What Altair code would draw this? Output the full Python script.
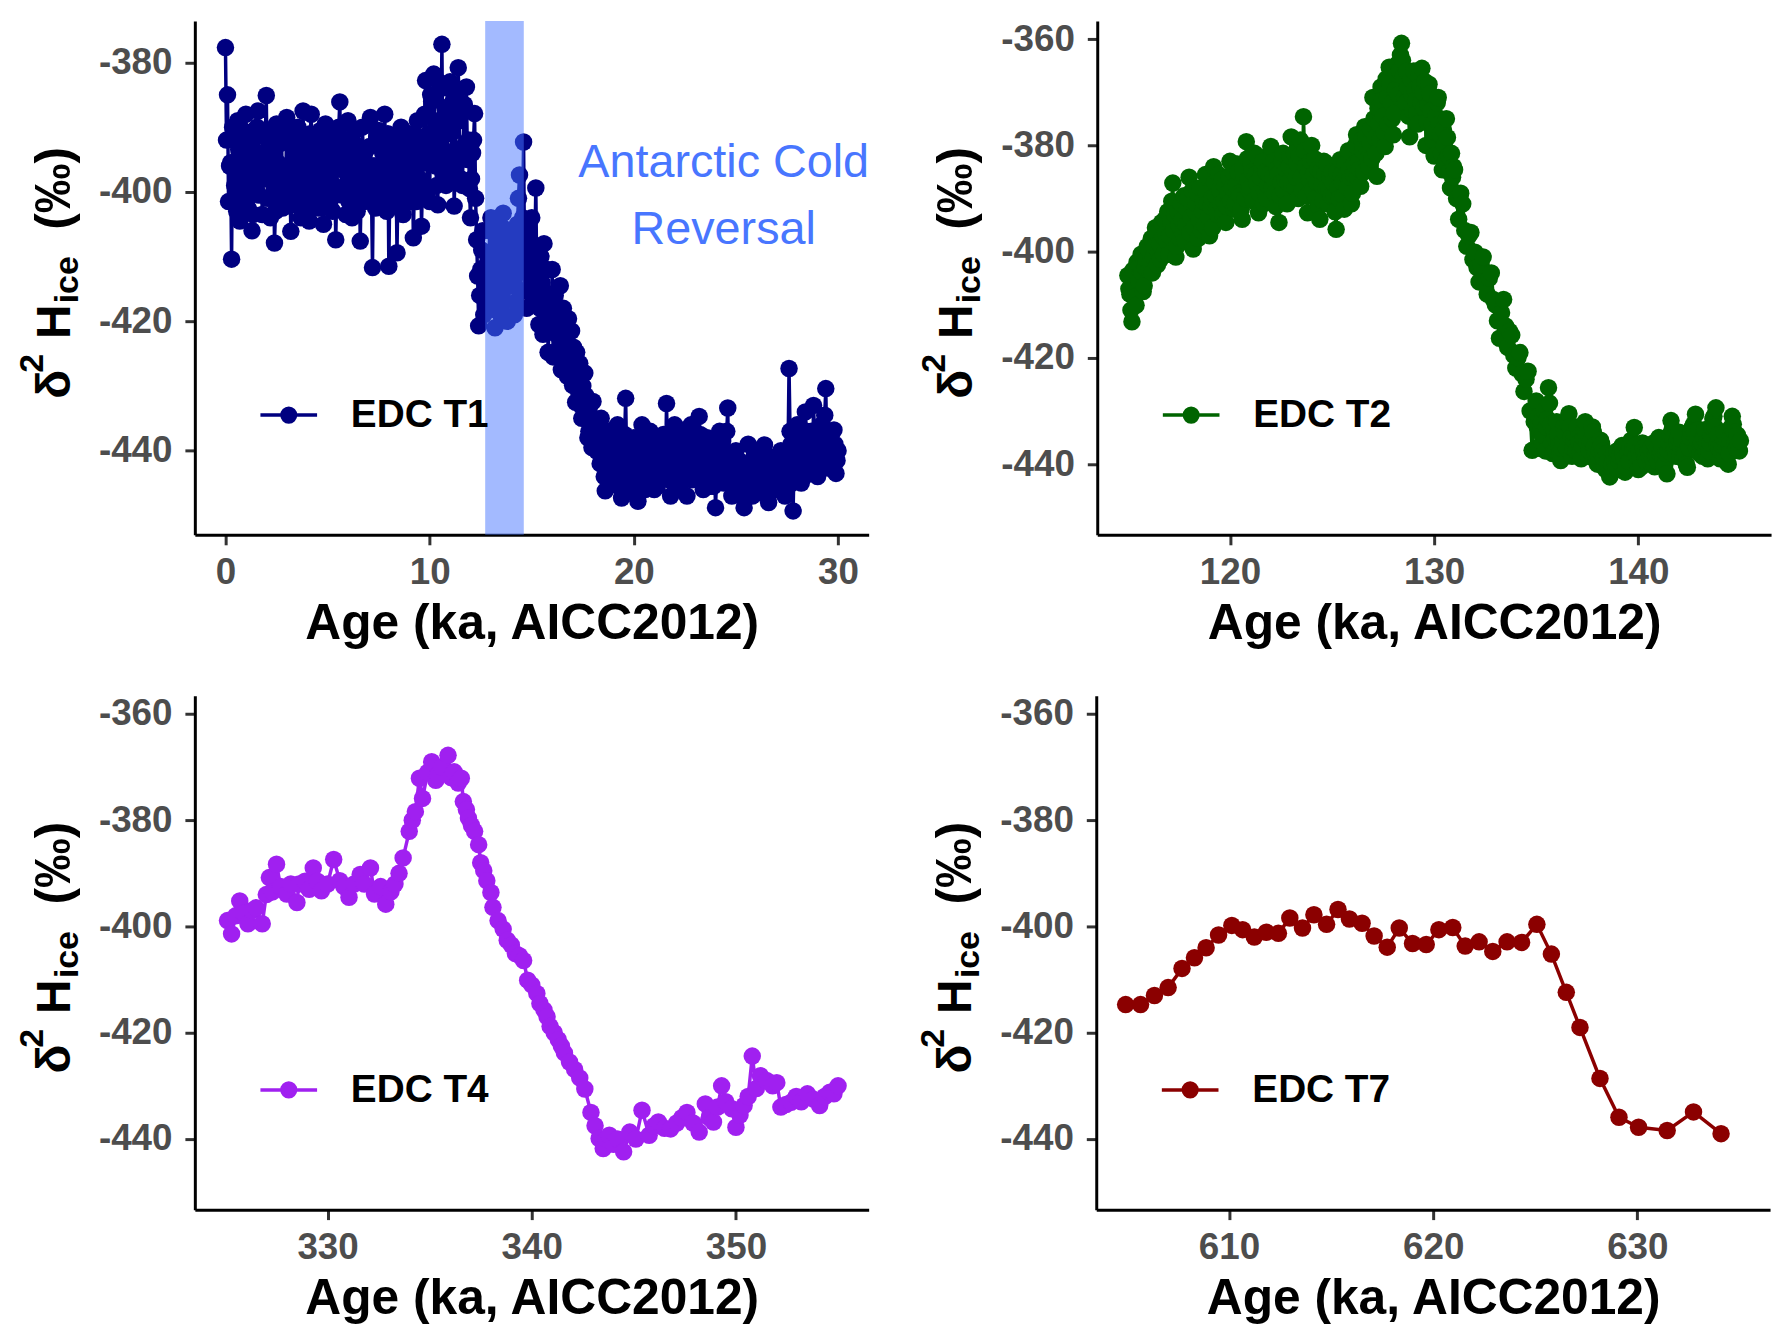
import altair as alt
import pandas as pd

FONT = "Liberation Sans"

# --- EDC T1 (0-30 ka) ---
t1_age = [0.0, 0.1, 0.2, 0.3, 0.4, 0.5, 0.6, 0.7, 0.8, 0.9,
          1.0, 1.1, 1.2, 1.3, 1.4, 1.5, 1.6, 1.7, 1.8, 1.9,
          2.0, 2.1, 2.2, 2.3, 2.4, 2.5, 2.6, 2.7, 2.8, 2.9,
          3.0, 3.1, 3.2, 3.3, 3.4, 3.5, 3.6, 3.7, 3.8, 3.9,
          4.0, 4.1, 4.2, 4.3, 4.4, 4.5, 4.6, 4.7, 4.8, 4.9,
          5.0, 5.1, 5.2, 5.3, 5.4, 5.5, 5.6, 5.7, 5.8, 5.9,
          6.0, 6.1, 6.2, 6.3, 6.4, 6.5, 6.6, 6.7, 6.8, 6.9,
          7.0, 7.1, 7.2, 7.3, 7.4, 7.5, 7.6, 7.7, 7.8, 7.9,
          8.0, 8.1, 8.2, 8.3, 8.4, 8.5, 8.6, 8.7, 8.8, 8.9,
          9.0, 9.1, 9.2, 9.3, 9.4, 9.5, 9.6, 9.7, 9.8, 9.9,
          10.0, 10.1, 10.2, 10.3, 10.4, 10.5, 10.6, 10.7, 10.8, 10.9,
          11.0, 11.1, 11.2, 11.3, 11.4, 11.5, 11.6, 11.7, 11.8, 11.9,
          12.0, 12.1, 12.2, 12.3, 12.4, 12.5, 12.6, 12.7, 12.8, 12.9,
          13.0, 13.1, 13.2, 13.3, 13.4, 13.5, 13.6, 13.7, 13.8, 13.9,
          14.0, 14.1, 14.2, 14.3, 14.4, 14.5, 14.6, 14.7, 14.8, 14.9,
          15.0, 15.1, 15.2, 15.3, 15.4, 15.5, 15.6, 15.7, 15.8, 15.9,
          16.0, 16.1, 16.2, 16.3, 16.4, 16.5, 16.6, 16.7, 16.8, 16.9,
          17.0, 17.1, 17.2, 17.3, 17.4, 17.5, 17.6, 17.7, 17.8, 17.9,
          18.0, 18.1, 18.2, 18.3, 18.4, 18.5, 18.6, 18.7, 18.8, 18.9,
          19.0, 19.1, 19.2, 19.3, 19.4, 19.5, 19.6, 19.7, 19.8, 19.9,
          20.0, 20.1, 20.2, 20.3, 20.4, 20.5, 20.6, 20.7, 20.8, 20.9,
          21.0, 21.1, 21.2, 21.3, 21.4, 21.5, 21.6, 21.7, 21.8, 21.9,
          22.0, 22.1, 22.2, 22.3, 22.4, 22.5, 22.6, 22.7, 22.8, 22.9,
          23.0, 23.1, 23.2, 23.3, 23.4, 23.5, 23.6, 23.7, 23.8, 23.9,
          24.0, 24.1, 24.2, 24.3, 24.4, 24.5, 24.6, 24.7, 24.8, 24.9,
          25.0, 25.1, 25.2, 25.3, 25.4, 25.5, 25.6, 25.7, 25.8, 25.9,
          26.0, 26.1, 26.2, 26.3, 26.4, 26.5, 26.6, 26.7, 26.8, 26.9,
          27.0, 27.1, 27.2, 27.3, 27.4, 27.5, 27.6, 27.7, 27.8, 27.9,
          28.0, 28.1, 28.2, 28.3, 28.4, 28.5, 28.6, 28.7, 28.8, 28.9,
          29.0, 29.1, 29.2, 29.3, 29.4, 29.5, 29.6, 29.7, 29.8, 29.9,
          30.0]
t1_d2h = [-377.7, -385.0, -396.0, -410.4, -392.0, -401.0, -389.0, -404.5, -395.0, -398.5,
          -388.0, -402.5, -393.0, -406.0, -390.5, -399.5, -387.5, -396.5, -403.5, -391.5,
          -385.1, -398.0, -404.0, -394.0, -407.9, -389.5, -400.5, -392.5, -402.5, -396.5,
          -388.5, -399.5, -406.1, -393.0, -390.5, -401.5, -396.0, -404.0, -387.5, -398.5,
          -392.0, -404.5, -388.0, -397.5, -402.0, -391.0, -399.0, -394.5, -405.0, -389.5,
          -396.0, -402.5, -390.5, -399.0, -407.4, -393.5, -386.1, -400.5, -394.0, -403.5,
          -389.0, -397.5, -404.0, -392.5, -400.0, -395.5, -407.6, -390.0, -401.5, -393.5,
          -398.5, -388.5, -411.7, -396.0, -402.0, -390.5, -399.5, -394.0, -388.0, -403.0,
          -411.5, -395.5, -392.0, -400.5, -409.4, -397.0, -390.0, -403.5, -394.5, -399.0,
          -391.0, -401.5, -407.1, -393.5, -389.0, -398.0, -405.3, -395.5, -382.8, -400.0,
          -401.5, -386.0, -381.8, -396.0, -402.0, -390.0, -377.2, -393.5, -399.0, -384.0,
          -383.0, -397.5, -402.2, -388.0, -380.8, -394.5, -399.0, -386.5, -383.8, -392.0,
          -404.0, -394.0, -387.9, -407.4, -420.7, -412.0, -406.0, -414.0, -418.0, -410.0,
          -404.0, -413.0, -421.0, -415.0, -408.0, -417.0, -403.3, -412.0, -420.0, -409.0,
          -410.0, -414.5, -417.0, -405.0, -397.4, -410.0, -392.3, -406.0, -415.0, -410.0,
          -404.0, -413.0, -399.4, -411.0, -418.0, -414.0, -408.0, -420.0, -424.8, -417.0,
          -412.0, -419.0, -422.0, -418.5, -414.5, -421.5, -426.0, -423.0, -419.6, -425.0,
          -429.9, -427.0, -424.8, -431.0, -433.0, -430.0, -428.0, -434.0, -437.0, -435.0,
          -432.4, -437.5, -440.1, -438.0, -435.0, -441.0, -446.2, -440.5, -437.0, -442.5,
          -444.0, -440.0, -436.0, -443.0, -447.3, -441.0, -431.9, -439.0, -442.0, -444.5,
          -438.0, -442.0, -447.8, -441.5, -436.0, -443.0, -445.0, -440.0, -437.0, -442.5,
          -446.0, -441.0, -438.0, -443.5, -444.0, -439.5, -432.7, -441.0, -447.0, -442.0,
          -436.0, -440.5, -443.0, -445.0, -437.0, -441.5, -447.0, -442.0, -436.0, -440.0,
          -444.0, -441.0, -434.7, -440.0, -446.0, -442.5, -438.0, -441.5, -443.0, -445.5,
          -448.8, -442.0, -437.0, -441.0, -445.0, -440.5, -433.4, -443.0, -447.0, -444.0,
          -440.0, -443.5, -446.0, -442.5, -448.8, -444.0, -439.0, -443.0, -447.0, -444.5,
          -440.0, -443.0, -445.0, -442.0, -439.1, -444.5, -448.0, -443.0, -441.0, -444.5,
          -446.0, -442.5, -440.0, -444.0, -447.0, -441.0, -427.3, -439.0, -449.3, -443.0,
          -436.0, -441.0, -445.0, -439.5, -434.0, -438.5, -442.0, -437.0, -433.0, -439.0,
          -444.0, -440.0, -436.0, -438.5, -430.4, -437.0, -442.7, -439.0, -436.8, -443.5,
          -440.0]

# extra T1 samples in between (the record is much denser than 0.1 ka)
t1_fill_age = [0.05, 0.15, 0.25, 0.35, 0.45, 0.55, 0.65, 0.75, 0.85, 0.95,
               1.05, 1.15, 1.25, 1.35, 1.45, 1.55, 1.65, 1.75, 1.85, 1.95,
               2.05, 2.15, 2.25, 2.35, 2.45, 2.55, 2.65, 2.75, 2.85, 2.95,
               3.05, 3.15, 3.25, 3.35, 3.45, 3.55, 3.65, 3.75, 3.85, 3.95,
               4.05, 4.15, 4.25, 4.35, 4.45, 4.55, 4.65, 4.75, 4.85, 4.95,
               5.05, 5.15, 5.25, 5.35, 5.45, 5.55, 5.65, 5.75, 5.85, 5.95,
               6.05, 6.15, 6.25, 6.35, 6.45, 6.55, 6.65, 6.75, 6.85, 6.95,
               7.05, 7.15, 7.25, 7.35, 7.45, 7.55, 7.65, 7.75, 7.85, 7.95,
               8.05, 8.15, 8.25, 8.35, 8.45, 8.55, 8.65, 8.75, 8.85, 8.95,
               9.05, 9.15, 9.25, 9.35, 9.45, 9.55, 9.65, 9.75, 9.85, 9.95,
               10.05, 10.15, 10.25, 10.35, 10.45, 10.55, 10.65, 10.75, 10.85, 10.95,
               11.05, 11.15, 11.25, 11.35, 11.45, 11.55, 11.65, 11.75, 11.85, 11.95,
               12.05, 12.15, 12.25, 12.35, 12.45, 12.55, 12.65, 12.75, 12.85, 12.95,
               13.05, 13.15, 13.25, 13.35, 13.45, 13.55, 13.65, 13.75, 13.85, 13.95,
               14.05, 14.15, 14.25, 14.35, 14.45, 14.55, 14.65, 14.75, 14.85, 14.95,
               15.05, 15.15, 15.25, 15.35, 15.45, 15.55, 15.65, 15.75, 15.85, 15.95,
               16.05, 16.15, 16.25, 16.35, 16.45, 16.55, 16.65, 16.75, 16.85, 16.95,
               17.05, 17.15, 17.25, 17.35, 17.45, 17.55, 17.65, 17.75, 17.85, 17.95,
               18.05, 18.15, 18.25, 18.35, 18.45, 18.55, 18.65, 18.75, 18.85, 18.95,
               19.05, 19.15, 19.25, 19.35, 19.45, 19.55, 19.65, 19.75, 19.85, 19.95,
               20.05, 20.15, 20.25, 20.35, 20.45, 20.55, 20.65, 20.75, 20.85, 20.95,
               21.05, 21.15, 21.25, 21.35, 21.45, 21.55, 21.65, 21.75, 21.85, 21.95,
               22.05, 22.15, 22.25, 22.35, 22.45, 22.55, 22.65, 22.75, 22.85, 22.95,
               23.05, 23.15, 23.25, 23.35, 23.45, 23.55, 23.65, 23.75, 23.85, 23.95,
               24.05, 24.15, 24.25, 24.35, 24.45, 24.55, 24.65, 24.75, 24.85, 24.95,
               25.05, 25.15, 25.25, 25.35, 25.45, 25.55, 25.65, 25.75, 25.85, 25.95,
               26.05, 26.15, 26.25, 26.35, 26.45, 26.55, 26.65, 26.75, 26.85, 26.95,
               27.05, 27.15, 27.25, 27.35, 27.45, 27.55, 27.65, 27.75, 27.85, 27.95,
               28.05, 28.15, 28.25, 28.35, 28.45, 28.55, 28.65, 28.75, 28.85, 28.95,
               29.05, 29.15, 29.25, 29.35, 29.45, 29.55, 29.65, 29.75, 29.85, 29.95]
t1_fill_d2h = [-392.0, -401.5, -395.5, -390.0, -399.0, -403.0, -393.5, -397.0, -390.5, -401.0,
               -395.0, -399.5, -392.0, -403.5, -397.0, -390.0, -400.5, -394.0, -398.0, -391.5,
               -401.0, -393.0, -397.5, -390.5, -403.0, -395.5, -399.0, -392.0, -396.0, -400.0,
               -391.0, -396.5, -402.0, -394.5, -399.0, -390.0, -400.5, -393.5, -397.0, -403.0,
               -396.5, -391.0, -400.0, -393.0, -397.5, -402.5, -390.5, -398.0, -394.0, -401.0,
               -392.5, -398.5, -403.0, -395.0, -400.0, -390.0, -396.5, -392.0, -399.5, -397.0,
               -401.5, -393.0, -397.0, -390.5, -403.0, -395.0, -399.5, -393.5, -397.5, -401.0,
               -393.0, -400.0, -396.0, -402.5, -391.5, -397.5, -393.0, -400.5, -395.5, -391.0,
               -399.0, -393.5, -402.0, -395.5, -398.5, -391.0, -396.5, -400.5, -392.0, -397.0,
               -396.0, -392.5, -399.5, -401.5, -394.0, -391.5, -398.5, -388.0, -394.5, -391.0,
               -385.0, -395.0, -389.0, -399.0, -383.0, -392.0, -397.0, -387.0, -394.0, -390.0,
               -391.0, -386.0, -396.0, -384.5, -389.0, -398.0, -393.0, -387.5, -395.0, -399.5,
               -398.0, -392.0, -401.0, -413.0, -416.0, -409.0, -419.0, -411.5, -415.5, -406.0,
               -417.5, -410.5, -406.5, -418.5, -412.0, -405.5, -415.0, -419.5, -411.0, -414.5,
               -407.0, -419.0, -412.5, -401.0, -415.5, -404.0, -411.5, -418.0, -407.5, -413.5,
               -416.0, -408.5, -415.0, -420.5, -410.0, -422.0, -415.5, -412.0, -421.0, -420.0,
               -425.5, -416.0, -424.5, -420.0, -427.5, -418.0, -423.0, -428.5, -426.0, -421.5,
               -424.0, -432.5, -428.5, -426.5, -435.0, -433.5, -431.5, -438.0, -433.0, -439.5,
               -435.0, -439.0, -437.0, -442.0, -440.0, -444.0, -441.0, -439.5, -443.0, -441.0,
               -438.5, -442.5, -445.5, -440.0, -444.0, -437.5, -442.0, -446.0, -439.5, -441.5,
               -444.5, -440.0, -443.5, -438.5, -441.5, -446.0, -439.0, -443.0, -445.0, -440.5,
               -442.0, -445.5, -439.5, -441.0, -437.5, -443.5, -440.0, -444.5, -438.5, -442.5,
               -445.5, -439.0, -441.5, -443.0, -439.5, -444.0, -440.5, -438.0, -444.5, -442.0,
               -439.0, -443.0, -437.5, -444.5, -440.5, -438.5, -443.5, -445.5, -439.5, -442.0,
               -444.5, -440.0, -443.0, -438.5, -442.5, -437.0, -445.0, -441.5, -444.0, -442.0,
               -445.0, -441.5, -447.0, -443.0, -446.0, -442.0, -444.5, -446.5, -443.5, -441.0,
               -444.5, -446.5, -442.0, -445.0, -443.5, -446.0, -441.5, -445.5, -443.0, -446.0,
               -443.5, -445.5, -442.0, -446.0, -444.0, -440.5, -437.0, -445.0, -441.5, -439.0,
               -443.0, -438.0, -441.5, -444.0, -437.0, -440.5, -439.0, -443.5, -437.5, -441.0,
               -438.0, -442.0, -440.5, -434.5, -439.5, -440.0, -437.5, -441.0, -439.0, -441.5]

# --- EDC T2 (115-145 ka) ---
t2_age = [115.0, 115.1, 115.2, 115.3, 115.4, 115.5, 115.6, 115.7, 115.8, 115.9,
          116.0, 116.1, 116.2, 116.3, 116.4, 116.5, 116.6, 116.7, 116.8, 116.9,
          117.0, 117.1, 117.2, 117.3, 117.4, 117.5, 117.6, 117.7, 117.8, 117.9,
          118.0, 118.1, 118.2, 118.3, 118.4, 118.5, 118.6, 118.7, 118.8, 118.9,
          119.0, 119.1, 119.2, 119.3, 119.4, 119.5, 119.6, 119.7, 119.8, 119.9,
          120.0, 120.1, 120.2, 120.3, 120.4, 120.5, 120.6, 120.7, 120.8, 120.9,
          121.0, 121.1, 121.2, 121.3, 121.4, 121.5, 121.6, 121.7, 121.8, 121.9,
          122.0, 122.1, 122.2, 122.3, 122.4, 122.5, 122.6, 122.7, 122.8, 122.9,
          123.0, 123.1, 123.2, 123.3, 123.4, 123.5, 123.6, 123.7, 123.8, 123.9,
          124.0, 124.1, 124.2, 124.3, 124.4, 124.5, 124.6, 124.7, 124.8, 124.9,
          125.0, 125.1, 125.2, 125.3, 125.4, 125.5, 125.6, 125.7, 125.8, 125.9,
          126.0, 126.1, 126.2, 126.3, 126.4, 126.5, 126.6, 126.7, 126.8, 126.9,
          127.0, 127.1, 127.2, 127.3, 127.4, 127.5, 127.6, 127.7, 127.8, 127.9,
          128.0, 128.1, 128.2, 128.3, 128.4, 128.5, 128.6, 128.7, 128.8, 128.9,
          129.0, 129.1, 129.2, 129.3, 129.4, 129.5, 129.6, 129.7, 129.8, 129.9,
          130.0, 130.1, 130.2, 130.3, 130.4, 130.5, 130.6, 130.7, 130.8, 130.9,
          131.0, 131.1, 131.2, 131.3, 131.4, 131.5, 131.6, 131.7, 131.8, 131.9,
          132.0, 132.1, 132.2, 132.3, 132.4, 132.5, 132.6, 132.7, 132.8, 132.9,
          133.0, 133.1, 133.2, 133.3, 133.4, 133.5, 133.6, 133.7, 133.8, 133.9,
          134.0, 134.1, 134.2, 134.3, 134.4, 134.5, 134.6, 134.7, 134.8, 134.9,
          135.0, 135.1, 135.2, 135.3, 135.4, 135.5, 135.6, 135.7, 135.8, 135.9,
          136.0, 136.1, 136.2, 136.3, 136.4, 136.5, 136.6, 136.7, 136.8, 136.9,
          137.0, 137.1, 137.2, 137.3, 137.4, 137.5, 137.6, 137.7, 137.8, 137.9,
          138.0, 138.1, 138.2, 138.3, 138.4, 138.5, 138.6, 138.7, 138.8, 138.9,
          139.0, 139.1, 139.2, 139.3, 139.4, 139.5, 139.6, 139.7, 139.8, 139.9,
          140.0, 140.1, 140.2, 140.3, 140.4, 140.5, 140.6, 140.7, 140.8, 140.9,
          141.0, 141.1, 141.2, 141.3, 141.4, 141.5, 141.6, 141.7, 141.8, 141.9,
          142.0, 142.1, 142.2, 142.3, 142.4, 142.5, 142.6, 142.7, 142.8, 142.9,
          143.0, 143.1, 143.2, 143.3, 143.4, 143.5, 143.6, 143.7, 143.8, 143.9,
          144.0, 144.1, 144.2, 144.3, 144.4, 144.5, 144.6, 144.7, 144.8, 144.9,
          145.0]
t2_d2h = [-404.5, -408.0, -413.2, -406.5, -410.1, -405.0, -402.6, -404.0, -406.4, -401.5,
          -399.5, -402.0, -404.0, -399.0, -396.5, -400.0, -401.4, -397.0, -394.0, -398.0,
          -400.5, -394.5, -387.1, -393.0, -399.0, -395.0, -391.0, -396.5, -398.0, -392.0,
          -386.0, -393.5, -399.5, -392.5, -389.0, -394.0, -396.0, -390.5, -385.5, -391.0,
          -397.0, -390.0, -384.0, -389.5, -393.0, -388.5, -386.5, -390.5, -394.5, -389.0,
          -383.0, -388.0, -392.0, -387.5, -385.0, -389.5, -393.9, -386.0, -379.3, -386.5,
          -388.0, -385.0, -381.5, -387.0, -392.7, -386.0, -383.0, -388.5, -390.0, -385.5,
          -380.2, -386.0, -389.0, -384.5, -394.5, -387.0, -381.5, -386.5, -391.0, -384.0,
          -378.4, -385.0, -388.0, -383.5, -382.0, -386.0, -374.6, -384.0, -392.7, -386.5,
          -380.0, -385.5, -390.0, -384.5, -393.9, -387.5, -383.0, -388.0, -391.0, -386.0,
          -385.0, -389.5, -395.8, -388.0, -382.7, -387.0, -392.0, -385.5, -381.0, -386.0,
          -389.0, -383.5, -378.0, -383.0, -387.7, -381.0, -376.5, -380.5, -384.0, -377.0,
          -371.0, -378.5, -385.8, -376.0, -369.0, -374.5, -380.2, -371.0, -365.3, -372.0,
          -378.0, -369.5, -364.7, -366.0, -360.8, -367.0, -372.0, -369.0, -378.4, -370.5,
          -366.0, -371.5, -376.0, -369.0, -365.5, -373.0, -380.0, -372.5, -370.3, -376.0,
          -382.0, -374.5, -371.0, -378.0, -384.6, -380.0, -375.0, -382.0, -388.0, -386.0,
          -384.6, -390.0, -393.9, -389.0, -391.0, -396.0, -399.0, -397.0, -396.4, -401.5,
          -400.1, -403.0, -405.7, -402.5, -401.0, -406.0, -408.0, -405.0, -404.0, -409.0,
          -410.0, -413.0, -416.3, -411.5, -409.0, -414.0, -418.0, -415.0, -415.7, -419.5,
          -421.9, -420.0, -419.0, -423.0, -426.3, -424.0, -422.5, -430.0, -437.4, -432.0,
          -428.1, -431.0, -434.0, -436.0, -430.0, -433.0, -425.6, -432.5, -438.0, -435.0,
          -432.0, -436.5, -439.3, -435.5, -434.0, -437.0, -430.5, -435.0, -437.0, -434.5,
          -433.0, -436.0, -439.0, -435.0, -432.0, -436.0, -437.5, -435.5, -434.0, -438.0,
          -440.0, -437.5, -436.2, -439.0, -441.0, -439.5, -442.4, -440.0, -438.0, -440.5,
          -441.0, -438.5, -436.5, -439.0, -440.5, -438.0, -437.0, -436.0, -433.1, -438.5,
          -441.0, -439.0, -436.0, -438.0, -439.5, -437.5, -437.0, -439.0, -440.5, -437.0,
          -435.0, -437.5, -439.0, -440.0, -441.8, -436.0, -431.8, -435.0, -437.0, -436.0,
          -434.0, -437.0, -439.0, -438.0, -440.6, -437.0, -434.0, -432.5, -430.6, -435.5,
          -438.0, -436.0, -435.0, -437.5, -439.0, -436.0, -433.0, -431.0, -429.4, -434.5,
          -439.0, -436.5, -434.0, -437.0, -440.0, -435.5, -431.0, -434.0, -437.0, -436.0,
          -435.6]

# extra T2 samples in between
t2_fill_age = [115.05, 115.15, 115.25, 115.35, 115.45, 115.55, 115.65, 115.75, 115.85, 115.95,
               116.05, 116.15, 116.25, 116.35, 116.45, 116.55, 116.65, 116.75, 116.85, 116.95,
               117.05, 117.15, 117.25, 117.35, 117.45, 117.55, 117.65, 117.75, 117.85, 117.95,
               118.05, 118.15, 118.25, 118.35, 118.45, 118.55, 118.65, 118.75, 118.85, 118.95,
               119.05, 119.15, 119.25, 119.35, 119.45, 119.55, 119.65, 119.75, 119.85, 119.95,
               120.05, 120.15, 120.25, 120.35, 120.45, 120.55, 120.65, 120.75, 120.85, 120.95,
               121.05, 121.15, 121.25, 121.35, 121.45, 121.55, 121.65, 121.75, 121.85, 121.95,
               122.05, 122.15, 122.25, 122.35, 122.45, 122.55, 122.65, 122.75, 122.85, 122.95,
               123.05, 123.15, 123.25, 123.35, 123.45, 123.55, 123.65, 123.75, 123.85, 123.95,
               124.05, 124.15, 124.25, 124.35, 124.45, 124.55, 124.65, 124.75, 124.85, 124.95,
               125.05, 125.15, 125.25, 125.35, 125.45, 125.55, 125.65, 125.75, 125.85, 125.95,
               126.05, 126.15, 126.25, 126.35, 126.45, 126.55, 126.65, 126.75, 126.85, 126.95,
               127.05, 127.15, 127.25, 127.35, 127.45, 127.55, 127.65, 127.75, 127.85, 127.95,
               128.05, 128.15, 128.25, 128.35, 128.45, 128.55, 128.65, 128.75, 128.85, 128.95,
               129.05, 129.15, 129.25, 129.35, 129.45, 129.55, 129.65, 129.75, 129.85, 129.95,
               130.05, 130.15, 130.25, 130.35, 130.45, 130.55, 130.65, 130.75, 130.85, 130.95,
               135.05, 135.15, 135.25, 135.35, 135.45, 135.55, 135.65, 135.75, 135.85, 135.95,
               136.05, 136.15, 136.25, 136.35, 136.45, 136.55, 136.65, 136.75, 136.85, 136.95,
               137.05, 137.15, 137.25, 137.35, 137.45, 137.55, 137.65, 137.75, 137.85, 137.95,
               138.05, 138.15, 138.25, 138.35, 138.45, 138.55, 138.65, 138.75, 138.85, 138.95,
               139.05, 139.15, 139.25, 139.35, 139.45, 139.55, 139.65, 139.75, 139.85, 139.95,
               140.05, 140.15, 140.25, 140.35, 140.45, 140.55, 140.65, 140.75, 140.85, 140.95,
               141.05, 141.15, 141.25, 141.35, 141.45, 141.55, 141.65, 141.75, 141.85, 141.95,
               142.05, 142.15, 142.25, 142.35, 142.45, 142.55, 142.65, 142.75, 142.85, 142.95,
               143.05, 143.15, 143.25, 143.35, 143.45, 143.55, 143.65, 143.75, 143.85, 143.95,
               144.05, 144.15, 144.25, 144.35, 144.45, 144.55, 144.65, 144.75, 144.85, 144.95]
t2_fill_d2h = [-407.0, -411.0, -403.5, -408.5, -402.0, -405.5, -400.5, -407.5, -403.0, -399.0,
               -403.5, -397.5, -401.0, -395.5, -402.5, -398.5, -394.5, -400.5, -396.5, -392.5,
               -397.0, -390.5, -396.0, -401.0, -392.5, -397.5, -394.0, -389.5, -395.0, -390.0,
               -396.5, -388.5, -395.5, -391.0, -397.5, -388.0, -392.5, -395.0, -389.0, -393.5,
               -391.5, -395.5, -387.0, -392.0, -385.5, -391.0, -393.0, -387.5, -391.5, -386.0,
               -390.5, -385.0, -391.0, -383.5, -389.0, -392.0, -384.5, -390.0, -382.5, -388.5,
               -383.5, -390.5, -385.5, -382.0, -389.0, -384.0, -391.0, -385.0, -387.5, -382.5,
               -388.0, -383.0, -391.5, -385.5, -389.5, -383.0, -388.5, -384.5, -387.0, -382.0,
               -387.5, -381.5, -386.0, -390.0, -379.0, -388.5, -381.0, -389.5, -385.0, -383.0,
               -388.5, -382.5, -387.0, -391.5, -385.0, -390.5, -385.5, -383.5, -388.5, -389.5,
               -387.0, -392.5, -385.0, -390.0, -385.5, -389.5, -383.5, -388.0, -384.5, -391.0,
               -385.5, -380.0, -386.0, -384.5, -379.0, -385.0, -378.5, -382.5, -379.5, -382.5,
               -375.0, -381.5, -373.0, -379.0, -371.5, -377.5, -367.5, -376.0, -368.5, -375.0,
               -374.0, -366.5, -370.5, -363.0, -364.0, -371.0, -366.0, -374.5, -367.5, -373.5,
               -369.5, -374.0, -367.0, -372.0, -370.0, -368.0, -375.5, -368.5, -373.5, -379.0,
               -377.5, -372.0, -376.0, -381.5, -377.0, -383.0, -378.5, -385.0, -381.5, -384.0,
               -433.0, -437.0, -432.0, -434.5, -437.5, -431.5, -428.5, -436.0, -433.5, -437.5,
               -434.5, -438.0, -437.0, -433.0, -436.5, -432.5, -433.0, -438.5, -435.5, -437.5,
               -435.0, -438.0, -436.5, -433.5, -434.5, -438.5, -436.0, -433.0, -436.5, -439.5,
               -438.5, -435.5, -437.5, -440.5, -438.0, -441.5, -440.5, -438.5, -439.5, -437.5,
               -439.5, -437.0, -438.0, -441.5, -436.5, -439.5, -435.5, -437.0, -436.5, -440.0,
               -437.5, -440.5, -437.0, -439.0, -436.5, -438.5, -440.0, -436.0, -438.5, -439.5,
               -438.0, -436.5, -440.5, -438.0, -437.5, -434.5, -433.5, -436.5, -438.5, -435.0,
               -438.5, -435.5, -437.5, -440.0, -436.5, -435.0, -433.0, -434.0, -437.0, -433.5,
               -436.5, -438.5, -433.5, -436.0, -437.5, -434.5, -431.5, -433.0, -436.5, -437.0,
               -437.5, -435.0, -438.5, -435.5, -438.0, -433.0, -432.5, -436.0, -434.5, -437.5]

# --- EDC T4 (325-355 ka) ---
t4_age = [325.1, 325.3, 325.5, 325.7, 325.9, 326.1, 326.3, 326.5, 326.8, 327.0,
          327.15, 327.3, 327.5, 327.7, 328.0, 328.2, 328.5, 328.6, 328.9, 329.1,
          329.3, 329.5, 329.7, 330.0, 330.3, 330.6, 330.8, 331.05, 331.3, 331.6,
          331.8, 332.1, 332.3, 332.6, 332.85, 333.1, 333.3, 333.5, 333.7, 334.0,
          334.15, 334.3, 334.5, 334.65, 334.9, 335.1, 335.3, 335.4, 335.6, 335.9,
          336.05, 336.2, 336.4, 336.55, 336.65, 336.8, 336.9, 337.05, 337.2, 337.4,
          337.5, 337.65, 337.8, 338.0, 338.1, 338.35, 338.6, 338.8, 339.0, 339.2,
          339.4, 339.6, 339.8, 340.0, 340.25, 340.4, 340.6, 340.75, 340.9, 341.1,
          341.3, 341.45, 341.6, 341.85, 342.1, 342.35, 342.6, 342.9, 343.1, 343.3,
          343.5, 343.65, 343.8, 344.0, 344.2, 344.5, 344.8, 345.1, 345.4, 345.75,
          346.0, 346.2, 346.5, 346.8, 347.1, 347.35, 347.6, 347.9, 348.2, 348.5,
          348.7, 348.9, 349.1, 349.3, 349.5, 349.8, 350.0, 350.2, 350.4, 350.6,
          350.8, 351.0, 351.2, 351.5, 351.8, 352.0, 352.2, 352.45, 352.7, 352.95,
          353.2, 353.5, 353.8, 354.1, 354.35, 354.6, 354.8, 355.0]
t4_d2h = [-398.9, -401.4, -398.0, -395.2, -397.5, -399.5, -397.0, -396.5, -399.5, -394.0,
          -390.8, -393.5, -388.3, -392.5, -393.9, -392.0, -395.5, -392.0, -391.5, -393.0,
          -389.0, -391.5, -393.3, -392.0, -387.4, -391.4, -392.5, -394.5, -392.0, -390.2,
          -392.0, -389.0, -393.9, -392.5, -395.8, -393.5, -392.0, -390.0, -387.1, -382.1,
          -380.0, -378.4, -372.1, -375.9, -371.0, -369.0, -372.5, -371.5, -370.0, -367.8,
          -372.0, -370.9, -373.0, -372.1, -376.5, -378.0, -379.6, -381.0, -382.1, -384.6,
          -388.0, -389.5, -391.4, -393.6, -396.4, -398.9, -400.5, -402.6, -403.5, -405.1,
          -405.5, -406.4, -410.1, -411.0, -412.6, -414.5, -415.7, -417.0, -418.8, -420.0,
          -421.3, -422.5, -423.8, -425.5, -426.9, -428.5, -430.6, -435.0, -437.5, -439.9,
          -441.8, -440.0, -439.3, -441.0, -440.0, -442.4, -438.7, -440.0, -434.6, -439.3,
          -437.5, -436.8, -438.0, -438.1, -437.0, -436.0, -435.0, -437.0, -438.7, -433.4,
          -436.0, -436.8, -434.0, -430.0, -433.0, -434.3, -437.8, -435.5, -433.7, -432.0,
          -424.4, -430.5, -428.1, -429.0, -430.0, -429.4, -434.0, -433.5, -433.1, -432.0,
          -433.0, -431.5, -432.5, -433.7, -432.0, -431.2, -431.5, -430.0]

# --- EDC T7 (605-634 ka) ---
t7_age = [604.94, 605.67, 606.35, 607.02, 607.70, 608.31, 608.88, 609.49, 610.14, 610.67,
          611.24, 611.83, 612.42, 612.98, 613.60, 614.16, 614.78, 615.34, 615.90, 616.52,
          617.11, 617.75, 618.34, 618.99, 619.66, 620.28, 620.96, 621.57, 622.25, 622.92,
          623.62, 624.33, 625.08, 625.79, 626.52, 627.19, 628.17, 629.10, 630.06, 631.46,
          632.75, 634.10]
t7_d2h = [-414.7, -414.7, -413.0, -411.5, -407.9, -405.9, -404.0, -401.6, -399.8, -400.6,
          -402.0, -401.1, -401.3, -398.4, -400.3, -397.8, -399.6, -396.8, -398.6, -399.4,
          -401.8, -403.9, -400.3, -403.2, -403.4, -400.6, -400.2, -403.7, -402.9, -404.7,
          -402.9, -403.0, -399.6, -405.2, -412.4, -419.0, -428.6, -435.9, -437.8, -438.4,
          -434.9, -439.0]

# Antarctic Cold Reversal band and label
acr_start = [12.72]
acr_end = [14.61]
acr_label_age = [24.4]
acr_label_d2h = [-397.7]
acr_label = ["Antarctic Cold", "Reversal"]

PLOT_W = 678
PLOT_H = 517
ACR_COLOR = "#4876FF"

# line segment with a dot in the middle, used as legend key
KEY = "M-1,0L1,0M-0.24,0A0.24,0.24,0,1,1,0.24,0A0.24,0.24,0,1,1,-0.24,0Z"


def y_title():
    one = pd.DataFrame({"k": [0]})
    pieces = [("δ", 48, 0, 0), ("2", 34, 26, -27), ("H", 48, 60, 0),
              ("ice", 34, 96, 8), ("(‰)", 50, 170, 0)]
    layers = []
    for txt, size, dx, dy in pieces:
        layers.append(
            alt.Chart(one).mark_text(
                text=txt, font=FONT, fontWeight="bold", fontSize=size, color="black",
                angle=270, align="left", baseline="alphabetic", dx=dx, dy=dy
            ).encode(x=alt.value(-126), y=alt.value(380))
        )
    return layers


def panel(name, ages, vals, color, xdom, xticks, ydom, yticks, extra=None):
    df = pd.DataFrame({"age": ages, "d2h": vals, "series": name}).sort_values("age")
    x = alt.X("age:Q", title="Age (ka, AICC2012)",
              scale=alt.Scale(domain=xdom, nice=False, zero=False),
              axis=alt.Axis(values=xticks, labelExpr="'' + datum.value"))
    y = alt.Y("d2h:Q", title=None,
              scale=alt.Scale(domain=ydom, nice=False, zero=False),
              axis=alt.Axis(values=yticks, labelExpr="'' + datum.value"))

    line = alt.Chart(df).mark_line(color=color, strokeWidth=3.5).encode(x=x, y=y)
    dots = alt.Chart(df).mark_circle(size=310, opacity=1).encode(
        x=x, y=y,
        color=alt.Color("series:N", scale=alt.Scale(domain=[name], range=[color]),
                        legend=alt.Legend(
                            title=None, orient="none", legendX=64, legendY=366,
                            padding=0, symbolType=KEY, symbolSize=3249,
                            symbolStrokeWidth=3.5, symbolStrokeColor=color,
                            symbolFillColor=color, labelFont=FONT, labelFontSize=39,
                            labelFontWeight="bold", labelColor="black", labelOffset=32))
    )
    layers = [line, dots]
    if extra:
        layers += extra
    layers += y_title()
    return alt.layer(*layers).properties(width=PLOT_W, height=PLOT_H)


acr_df = pd.DataFrame({"start": acr_start, "end": acr_end})
band = alt.Chart(acr_df).mark_rect(color=ACR_COLOR, opacity=0.5).encode(
    x="start:Q", x2="end:Q")
lab_df = pd.DataFrame({"age": acr_label_age, "d2h": acr_label_d2h})
acr_text = alt.Chart(lab_df).mark_text(
    text=acr_label, font=FONT, fontSize=47, color=ACR_COLOR, align="center",
    baseline="alphabetic", lineHeight=67
).encode(x="age:Q", y="d2h:Q")

Y_WIDE = [-453.3, -356.6]
Y_TICKS = [-440, -420, -400, -380, -360]

p1 = panel("EDC T1", t1_age + t1_fill_age, t1_d2h + t1_fill_d2h, "#000080",
           [-1.5, 31.5], [0, 10, 20, 30],
           [-453.0, -373.6], [-440, -420, -400, -380], extra=[band, acr_text])
p2 = panel("EDC T2", t2_age + t2_fill_age, t2_d2h + t2_fill_d2h, "#006400",
           [113.5, 146.5], [120, 130, 140], Y_WIDE, Y_TICKS)
p3 = panel("EDC T4", t4_age, t4_d2h, "#A020F0", [323.5, 356.5], [330, 340, 350],
           Y_WIDE, Y_TICKS)
p4 = panel("EDC T7", t7_age, t7_d2h, "#8B0000", [603.5, 636.5], [610, 620, 630],
           Y_WIDE, Y_TICKS)

top = alt.hconcat(p1, p2, spacing=49).resolve_scale(color="independent").resolve_legend(color="independent")
bottom = alt.hconcat(p3, p4, spacing=49).resolve_scale(color="independent").resolve_legend(color="independent")

chart = alt.vconcat(top, bottom, spacing=47).resolve_scale(
    color="independent"
).resolve_legend(color="independent").properties(
    padding={"left": 8, "top": 8, "right": 10, "bottom": 10}
).configure_view(
    stroke=None
).configure_axis(
    grid=False,
    domainColor="black", domainWidth=3,
    tickColor="#333333", tickWidth=3, tickSize=10,
    labelFont=FONT, labelFontSize=37, labelFontWeight="bold", labelColor="#4D4D4D",
    labelPadding=13,
    titleFont=FONT, titleFontSize=50, titleFontWeight="bold", titleColor="black",
).configure_axisX(
    labelPadding=10, titlePadding=8
)

chart.save("out.html", embed_options={"renderer": "svg", "actions": False})
